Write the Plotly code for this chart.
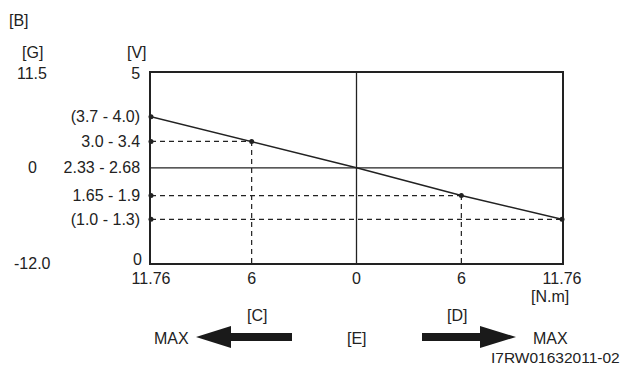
import plotly.graph_objects as go

# Sensor output vs. steering torque
torque = [-11.76, -6, 0, 6, 11.76]
v_low = [3.7, 3.0, 2.33, 1.65, 1.0]
v_high = [4.0, 3.4, 2.68, 1.9, 1.3]
v_labels = ["(3.7 - 4.0)", "3.0 - 3.4", "2.33 - 2.68", "1.65 - 1.9", "(1.0 - 1.3)"]
x_ticktext = ["11.76", "6", "0", "6", "11.76"]
v_range = [0, 5]
g_labels = ["11.5", "0", "-12.0"]

v_mid = [(a + b) / 2 for a, b in zip(v_low, v_high)]

W, H = 623, 365
L, R, T, B = 151, 562, 73, 263
FONT = dict(family="Liberation Sans, Arial, sans-serif", size=16, color="#222")
SMALL = dict(FONT, size=15.5)
INK = "#222"


def px(x):
    return (x - L) / (R - L)


def py(y):
    return (B - y) / (B - T)


fig = go.Figure()

# straight reference lines through the neutral point
fig.add_trace(go.Scatter(x=[torque[0], torque[-1]], y=[v_mid[2], v_mid[2]], mode="lines",
                         line=dict(color=INK, width=1.3), hoverinfo="skip"))
fig.add_trace(go.Scatter(x=[torque[2], torque[2]], y=v_range, mode="lines",
                         line=dict(color=INK, width=1.3), hoverinfo="skip"))

# dashed projections to the axes
dash = dict(color=INK, width=1.2, dash="5px,4px")
for i in (1, 3, 4):
    fig.add_trace(go.Scatter(x=[torque[0], torque[i]], y=[v_mid[i], v_mid[i]], mode="lines",
                             line=dash, hoverinfo="skip"))
for i in (1, 3):
    fig.add_trace(go.Scatter(x=[torque[i], torque[i]], y=[0, v_mid[i]], mode="lines",
                             line=dash, hoverinfo="skip"))

# characteristic line
fig.add_trace(go.Scatter(x=torque, y=v_mid, mode="lines", line=dict(color=INK, width=1.5),
                         hoverinfo="skip"))

# dots on the line and on the voltage axis
dot_x = [torque[i] for i in (0, 1, 3, 4)] + [torque[0]] * 3
dot_y = [v_mid[i] for i in (0, 1, 3, 4)] + [v_mid[i] for i in (1, 3, 4)]
fig.add_trace(go.Scatter(x=dot_x, y=dot_y, mode="markers", cliponaxis=False,
                         marker=dict(color=INK, size=5), hoverinfo="skip"))

fig.update_layout(
    width=W, height=H, showlegend=False,
    paper_bgcolor="white", plot_bgcolor="white",
    margin=dict(l=L, r=W - R, t=T, b=H - B),
    font=FONT,
    xaxis=dict(range=[torque[0], torque[-1]], tickvals=torque, ticktext=x_ticktext,
               showgrid=False, zeroline=False, showline=True, mirror=True,
               linecolor=INK, linewidth=1.5, ticks="inside", ticklen=4, tickcolor=INK,
               tickfont=FONT),
    yaxis=dict(range=v_range, tickvals=v_mid + [v_range[1]],
               ticktext=v_labels + ["5"],
               showgrid=False, zeroline=False, showline=True, mirror=True,
               linecolor=INK, linewidth=1.5, ticks="", ticklabelstandoff=6,
               tickfont=FONT),
)

ann = []


def text(s, x, y, xanchor="center", font=FONT):
    ann.append(dict(text=s, x=px(x), y=py(y), xref="paper", yref="paper",
                    xanchor=xanchor, yanchor="middle", showarrow=False, font=font))


text("[B]", 19, 20)
text("[G]", 32, 52)
text("[V]", 137, 52)
text("0", 144, 259, xanchor="right")
for s, v in zip(g_labels, [v_range[1], v_mid[2], v_range[0]]):
    ann.append(dict(text=s, x=px(32), y=v, xref="paper", yref="y", xanchor="center",
                    yanchor="middle", showarrow=False, font=FONT))
text("[N.m]", 550, 296)
text("[C]", 257, 315)
text("[D]", 457, 315)
text("[E]", 357, 338)
text("MAX", 171, 338)
text("MAX", 550, 338)
text("I7RW01632011-02", 622, 357, xanchor="right", font=SMALL)
fig.update_layout(annotations=ann)


def arrow(tail, base, tip, yc, shaft=4, head=11):
    pts = [(tail, yc - shaft), (base, yc - shaft), (base, yc - head), (tip, yc),
           (base, yc + head), (base, yc + shaft), (tail, yc + shaft)]
    path = "M " + " L ".join(f"{px(a):.5f},{py(b):.5f}" for a, b in pts) + " Z"
    return dict(type="path", path=path, xref="paper", yref="paper",
                fillcolor="#1a1a1a", line=dict(width=0))


fig.update_layout(shapes=[arrow(292, 231, 196, 337), arrow(422, 480, 516, 337)])

fig.write_html("out.html")
